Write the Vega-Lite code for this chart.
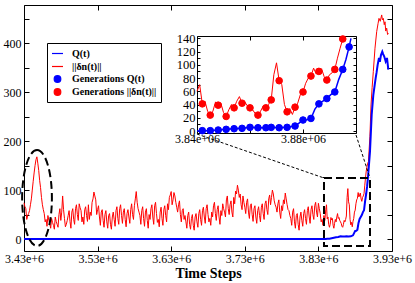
{
 "$schema": "https://vega.github.io/schema/vega-lite/v6.json",
 "width": 368, "height": 246,
 "autosize": {"type": "none"},
 "padding": {"left": 24, "top": 5, "right": 23, "bottom": 32},
 "background": "white",
 "config": {
  "view": {"stroke": "#000000", "strokeWidth": 1},
  "font": "Liberation Serif",
  "axis": {"grid": false, "labelFont": "Liberation Serif", "labelColor": "#000", "tickColor": "#000", "domainColor": "#000", "labelFlush": false, "labelOverlap": false, "labelBound": false, "titleFont": "Liberation Serif", "titleColor": "#000"},
  "legend": {"orient": "none", "legendX": 23, "legendY": 38, "title": null, "labelFont": "Liberation Serif", "labelFontSize": 10, "labelFontWeight": "bold", "labelColor": "#000", "labelOffset": 8, "rowPadding": 1, "padding": 4, "strokeColor": "#000", "fillColor": "#fff", "cornerRadius": 0, "labelLimit": 200, "symbolStrokeWidth": 1.2, "symbolOpacity": 1}
 },
 "datasets": {
  "dn": [
   {"t":3430000,"v":74},{"t":3431250,"v":66},{"t":3432500,"v":62},{"t":3433750,"v":40},{"t":3435000,"v":48},{"t":3436250,"v":52},{"t":3437500,"v":58},{"t":3438750,"v":70},{"t":3440000,"v":82},{"t":3441250,"v":100},
   {"t":3442500,"v":118},{"t":3443750,"v":135},{"t":3445000,"v":150},{"t":3446250,"v":162},{"t":3447500,"v":168},{"t":3448750,"v":155},{"t":3450000,"v":140},{"t":3451250,"v":120},{"t":3452500,"v":105},{"t":3453750,"v":85},
   {"t":3455000,"v":70},{"t":3456250,"v":60},{"t":3457500,"v":52},{"t":3458750,"v":35},{"t":3460000,"v":40},{"t":3461250,"v":26},{"t":3462500,"v":48},{"t":3463750,"v":38},{"t":3465000,"v":32},{"t":3466250,"v":22},
   {"t":3467500,"v":42},{"t":3468750,"v":34},{"t":3470000,"v":28},{"t":3471250,"v":20},{"t":3472500,"v":45},{"t":3473750,"v":36},{"t":3475000,"v":30},{"t":3476250,"v":24},{"t":3477500,"v":50},{"t":3478750,"v":62},
   {"t":3480000,"v":38},{"t":3481250,"v":55},{"t":3482500,"v":88},{"t":3483750,"v":60},{"t":3485000,"v":42},{"t":3486250,"v":25},{"t":3487500,"v":30},{"t":3488750,"v":38},{"t":3490000,"v":48},{"t":3491250,"v":58},
   {"t":3492500,"v":36},{"t":3493750,"v":22},{"t":3495000,"v":55},{"t":3496250,"v":62},{"t":3497500,"v":40},{"t":3498750,"v":30},{"t":3500000,"v":62},{"t":3501250,"v":70},{"t":3502500,"v":50},{"t":3503750,"v":38},
   {"t":3505000,"v":72},{"t":3506250,"v":64},{"t":3507500,"v":58},{"t":3508750,"v":35},{"t":3510000,"v":45},{"t":3511250,"v":30},{"t":3512500,"v":60},{"t":3513750,"v":66},{"t":3515000,"v":48},{"t":3516250,"v":36},
   {"t":3517500,"v":70},{"t":3518750,"v":40},{"t":3520000,"v":55},{"t":3521250,"v":48},{"t":3522500,"v":75},{"t":3523750,"v":82},{"t":3525000,"v":96},{"t":3526250,"v":88},{"t":3527500,"v":80},{"t":3528750,"v":50},
   {"t":3530000,"v":60},{"t":3531250,"v":68},{"t":3532500,"v":45},{"t":3533750,"v":28},{"t":3535000,"v":55},{"t":3536250,"v":60},{"t":3537500,"v":38},{"t":3538750,"v":24},{"t":3540000,"v":50},{"t":3541250,"v":58},
   {"t":3542500,"v":35},{"t":3543750,"v":22},{"t":3545000,"v":48},{"t":3546250,"v":52},{"t":3547500,"v":30},{"t":3548750,"v":20},{"t":3550000,"v":45},{"t":3551250,"v":55},{"t":3552500,"v":40},{"t":3553750,"v":26},
   {"t":3555000,"v":58},{"t":3556250,"v":66},{"t":3557500,"v":42},{"t":3558750,"v":30},{"t":3560000,"v":62},{"t":3561250,"v":70},{"t":3562500,"v":48},{"t":3563750,"v":32},{"t":3565000,"v":55},{"t":3566250,"v":62},
   {"t":3567500,"v":40},{"t":3568750,"v":25},{"t":3570000,"v":52},{"t":3571250,"v":60},{"t":3572500,"v":45},{"t":3573750,"v":32},{"t":3575000,"v":60},{"t":3576250,"v":72},{"t":3577500,"v":50},{"t":3578750,"v":40},
   {"t":3580000,"v":68},{"t":3581250,"v":82},{"t":3582500,"v":97},{"t":3583750,"v":75},{"t":3585000,"v":62},{"t":3586250,"v":55},{"t":3587500,"v":48},{"t":3588750,"v":30},{"t":3590000,"v":58},{"t":3591250,"v":66},
   {"t":3592500,"v":42},{"t":3593750,"v":26},{"t":3595000,"v":55},{"t":3596250,"v":62},{"t":3597500,"v":38},{"t":3598750,"v":22},{"t":3600000,"v":50},{"t":3601250,"v":40},{"t":3602500,"v":62},{"t":3603750,"v":70},
   {"t":3605000,"v":45},{"t":3606250,"v":30},{"t":3607500,"v":68},{"t":3608750,"v":75},{"t":3610000,"v":52},{"t":3611250,"v":34},{"t":3612500,"v":40},{"t":3613750,"v":25},{"t":3615000,"v":55},{"t":3616250,"v":65},
   {"t":3617500,"v":42},{"t":3618750,"v":28},{"t":3620000,"v":60},{"t":3621250,"v":68},{"t":3622500,"v":48},{"t":3623750,"v":35},{"t":3625000,"v":72},{"t":3626250,"v":60},{"t":3627500,"v":85},{"t":3628750,"v":90},
   {"t":3630000,"v":97},{"t":3631250,"v":70},{"t":3632500,"v":80},{"t":3633750,"v":95},{"t":3635000,"v":88},{"t":3636250,"v":75},{"t":3637500,"v":65},{"t":3638750,"v":55},{"t":3640000,"v":70},{"t":3641250,"v":78},
   {"t":3642500,"v":50},{"t":3643750,"v":35},{"t":3645000,"v":58},{"t":3646250,"v":62},{"t":3647500,"v":40},{"t":3648750,"v":48},{"t":3650000,"v":35},{"t":3651250,"v":22},{"t":3652500,"v":48},{"t":3653750,"v":55},
   {"t":3655000,"v":30},{"t":3656250,"v":20},{"t":3657500,"v":42},{"t":3658750,"v":50},{"t":3660000,"v":28},{"t":3661250,"v":18},{"t":3662500,"v":45},{"t":3663750,"v":52},{"t":3665000,"v":35},{"t":3666250,"v":24},
   {"t":3667500,"v":52},{"t":3668750,"v":60},{"t":3670000,"v":40},{"t":3671250,"v":28},{"t":3672500,"v":58},{"t":3673750,"v":65},{"t":3675000,"v":45},{"t":3676250,"v":32},{"t":3677500,"v":62},{"t":3678750,"v":70},
   {"t":3680000,"v":50},{"t":3681250,"v":35},{"t":3682500,"v":42},{"t":3683750,"v":28},{"t":3685000,"v":55},{"t":3686250,"v":45},{"t":3687500,"v":68},{"t":3688750,"v":75},{"t":3690000,"v":52},{"t":3691250,"v":38},
   {"t":3692500,"v":60},{"t":3693750,"v":68},{"t":3695000,"v":45},{"t":3696250,"v":30},{"t":3697500,"v":58},{"t":3698750,"v":48},{"t":3700000,"v":72},{"t":3701250,"v":62},{"t":3702500,"v":55},{"t":3703750,"v":45},
   {"t":3705000,"v":80},{"t":3706250,"v":88},{"t":3707500,"v":62},{"t":3708750,"v":50},{"t":3710000,"v":70},{"t":3711250,"v":78},{"t":3712500,"v":55},{"t":3713750,"v":45},{"t":3715000,"v":85},{"t":3716250,"v":72},
   {"t":3717500,"v":98},{"t":3718750,"v":92},{"t":3720000,"v":110},{"t":3721250,"v":100},{"t":3722500,"v":85},{"t":3723750,"v":92},{"t":3725000,"v":70},{"t":3726250,"v":60},{"t":3727500,"v":88},{"t":3728750,"v":75},
   {"t":3730000,"v":65},{"t":3731250,"v":52},{"t":3732500,"v":75},{"t":3733750,"v":82},{"t":3735000,"v":55},{"t":3736250,"v":42},{"t":3737500,"v":68},{"t":3738750,"v":72},{"t":3740000,"v":50},{"t":3741250,"v":36},
   {"t":3742500,"v":62},{"t":3743750,"v":68},{"t":3745000,"v":45},{"t":3746250,"v":32},{"t":3747500,"v":58},{"t":3748750,"v":66},{"t":3750000,"v":48},{"t":3751250,"v":35},{"t":3752500,"v":65},{"t":3753750,"v":72},
   {"t":3755000,"v":52},{"t":3756250,"v":40},{"t":3757500,"v":72},{"t":3758750,"v":78},{"t":3760000,"v":60},{"t":3761250,"v":50},{"t":3762500,"v":82},{"t":3763750,"v":90},{"t":3765000,"v":70},{"t":3766250,"v":85},
   {"t":3767500,"v":100},{"t":3768750,"v":92},{"t":3770000,"v":78},{"t":3771250,"v":70},{"t":3772500,"v":65},{"t":3773750,"v":55},{"t":3775000,"v":72},{"t":3776250,"v":80},{"t":3777500,"v":55},{"t":3778750,"v":42},
   {"t":3780000,"v":68},{"t":3781250,"v":58},{"t":3782500,"v":80},{"t":3783750,"v":72},{"t":3785000,"v":94},{"t":3786250,"v":82},{"t":3787500,"v":70},{"t":3788750,"v":60},{"t":3790000,"v":58},{"t":3791250,"v":48},
   {"t":3792500,"v":42},{"t":3793750,"v":28},{"t":3795000,"v":55},{"t":3796250,"v":62},{"t":3797500,"v":35},{"t":3798750,"v":22},{"t":3800000,"v":48},{"t":3801250,"v":52},{"t":3802500,"v":30},{"t":3803750,"v":18},
   {"t":3805000,"v":45},{"t":3806250,"v":55},{"t":3807500,"v":38},{"t":3808750,"v":26},{"t":3810000,"v":52},{"t":3811250,"v":60},{"t":3812500,"v":42},{"t":3813750,"v":30},{"t":3815000,"v":58},{"t":3816250,"v":66},
   {"t":3817500,"v":45},{"t":3818750,"v":32},{"t":3820000,"v":60},{"t":3821250,"v":68},{"t":3822500,"v":50},{"t":3823750,"v":40},{"t":3825000,"v":68},{"t":3826250,"v":75},{"t":3827500,"v":55},{"t":3828750,"v":45},
   {"t":3830000,"v":73},{"t":3831250,"v":62},{"t":3832500,"v":52},{"t":3833750,"v":35},{"t":3835000,"v":40},{"t":3836250,"v":28},{"t":3837500,"v":48},{"t":3838750,"v":38},{"t":3840000,"v":60},
   {"t":3841000,"v":70},{"t":3842000,"v":41},{"t":3843000,"v":45},{"t":3844000,"v":30},{"t":3845000,"v":24},{"t":3846000,"v":30},{"t":3847000,"v":44},{"t":3848000,"v":39},{"t":3849000,"v":42},{"t":3850000,"v":28},
   {"t":3851000,"v":22},{"t":3852000,"v":32},{"t":3853000,"v":40},{"t":3854000,"v":35},{"t":3855000,"v":45},{"t":3856000,"v":52},{"t":3857000,"v":42},{"t":3858000,"v":44},{"t":3859000,"v":38},{"t":3860000,"v":35},
   {"t":3861000,"v":32},{"t":3862000,"v":26},{"t":3863000,"v":24},{"t":3864000,"v":30},{"t":3865000,"v":38},{"t":3866000,"v":35},{"t":3867000,"v":40},{"t":3868000,"v":47},{"t":3869000,"v":85},{"t":3870000,"v":103},
   {"t":3871000,"v":76},{"t":3872000,"v":70},{"t":3873000,"v":40},{"t":3874000,"v":29},{"t":3875000,"v":34},{"t":3876000,"v":25},{"t":3877000,"v":36},{"t":3878000,"v":42},{"t":3879000,"v":55},{"t":3880000,"v":59},
   {"t":3881000,"v":72},{"t":3882000,"v":80},{"t":3883000,"v":83},{"t":3884000,"v":95},{"t":3885000,"v":86},{"t":3886000,"v":90},{"t":3887000,"v":94},{"t":3888000,"v":82},{"t":3889000,"v":77},{"t":3890000,"v":85},
   {"t":3891000,"v":88},{"t":3892000,"v":93},{"t":3893000,"v":110},{"t":3894000,"v":125},{"t":3895000,"v":139},{"t":3896000,"v":148},{"t":3897000,"v":155},{"t":3898000,"v":158},{"t":3900000,"v":210},{"t":3901500,"v":274},
   {"t":3903000,"v":310},{"t":3904600,"v":342},{"t":3906900,"v":390},{"t":3909200,"v":424},{"t":3911000,"v":440},{"t":3912300,"v":451},{"t":3914000,"v":445},{"t":3916000,"v":458},{"t":3917000,"v":448},{"t":3918200,"v":451},
   {"t":3919500,"v":438},{"t":3920500,"v":444},{"t":3921500,"v":425},{"t":3922800,"v":431},{"t":3924000,"v":418},{"t":3925000,"v":421}
  ],
  "q": [
   {"t":3430000,"v":0},{"t":3840000,"v":0},{"t":3842000,"v":0.5},{"t":3845000,"v":0.5},{"t":3848000,"v":1.5},{"t":3851000,"v":2.5},{"t":3854000,"v":3.5},{"t":3857000,"v":4},{"t":3860000,"v":5.5},{"t":3863000,"v":5},
   {"t":3866000,"v":5},{"t":3868000,"v":5.5},{"t":3871000,"v":5},{"t":3874000,"v":5.5},{"t":3877000,"v":7.5},{"t":3878500,"v":12},{"t":3880000,"v":16.6},{"t":3881500,"v":17},{"t":3883000,"v":19},{"t":3884500,"v":33},
   {"t":3886000,"v":41},{"t":3887500,"v":45},{"t":3889000,"v":49},{"t":3890500,"v":55},{"t":3892000,"v":59},{"t":3893500,"v":78},{"t":3895000,"v":93},{"t":3896200,"v":108},{"t":3897400,"v":127},{"t":3898100,"v":140},
   {"t":3900100,"v":179},{"t":3902400,"v":254},{"t":3904600,"v":294},{"t":3906500,"v":315},{"t":3907800,"v":329},{"t":3909000,"v":340},{"t":3910500,"v":356},{"t":3912300,"v":370},{"t":3913500,"v":362},{"t":3915000,"v":376},
   {"t":3916800,"v":383},{"t":3918000,"v":378},{"t":3919500,"v":373},{"t":3921400,"v":363},{"t":3923200,"v":370},{"t":3925000,"v":346}
  ],
  "gens": [
   {"t":3842000,"v":41,"s":"Generations ||δn(t)||"},{"t":3845000,"v":24,"s":"Generations ||δn(t)||"},{"t":3848000,"v":39,"s":"Generations ||δn(t)||"},{"t":3851000,"v":22,"s":"Generations ||δn(t)||"},{"t":3854000,"v":35,"s":"Generations ||δn(t)||"},
   {"t":3857000,"v":42,"s":"Generations ||δn(t)||"},{"t":3860000,"v":35,"s":"Generations ||δn(t)||"},{"t":3863000,"v":24,"s":"Generations ||δn(t)||"},{"t":3866000,"v":35,"s":"Generations ||δn(t)||"},{"t":3868000,"v":47,"s":"Generations ||δn(t)||"},
   {"t":3871000,"v":76,"s":"Generations ||δn(t)||"},{"t":3874000,"v":29,"s":"Generations ||δn(t)||"},{"t":3877000,"v":36,"s":"Generations ||δn(t)||"},{"t":3880000,"v":59,"s":"Generations ||δn(t)||"},{"t":3883000,"v":83,"s":"Generations ||δn(t)||"},
   {"t":3886000,"v":90,"s":"Generations ||δn(t)||"},{"t":3889000,"v":77,"s":"Generations ||δn(t)||"},{"t":3892000,"v":93,"s":"Generations ||δn(t)||"},{"t":3895000,"v":139,"s":"Generations ||δn(t)||"},
   {"t":3842000,"v":0.5,"s":"Generations Q(t)"},{"t":3845000,"v":0.5,"s":"Generations Q(t)"},{"t":3848000,"v":1.5,"s":"Generations Q(t)"},{"t":3851000,"v":2.5,"s":"Generations Q(t)"},{"t":3854000,"v":3.5,"s":"Generations Q(t)"},
   {"t":3857000,"v":4,"s":"Generations Q(t)"},{"t":3860000,"v":5.5,"s":"Generations Q(t)"},{"t":3863000,"v":5,"s":"Generations Q(t)"},{"t":3866000,"v":5,"s":"Generations Q(t)"},{"t":3868000,"v":5.5,"s":"Generations Q(t)"},
   {"t":3871000,"v":5,"s":"Generations Q(t)"},{"t":3874000,"v":5.5,"s":"Generations Q(t)"},{"t":3877000,"v":7.5,"s":"Generations Q(t)"},{"t":3880000,"v":16.6,"s":"Generations Q(t)"},{"t":3883000,"v":19,"s":"Generations Q(t)"},
   {"t":3886000,"v":41,"s":"Generations Q(t)"},{"t":3889000,"v":49,"s":"Generations Q(t)"},{"t":3892000,"v":59,"s":"Generations Q(t)"},{"t":3895000,"v":93,"s":"Generations Q(t)"},{"t":3897400,"v":127,"s":"Generations Q(t)"}
  ],
  "box": [{"x1":3837600,"x2":3900100,"y1":-14.3,"y2":124.7}],
  "ell": [{"x":3447700,"y":83.8}],
  "conn": [{"x1":3665000,"y1":214.6,"x2":3837600,"y2":124.7},{"x1":3881100,"y1":212.6,"x2":3900100,"y2":124.7}]
 },
 "layer": [
  {
   "data": {"name": "dn"},
   "mark": {"type": "line", "color": "#ff0000", "strokeWidth": 1},
   "encoding": {
    "x": {"field": "t", "type": "quantitative", "scale": {"domain": [3430000, 3930000], "nice": false, "zero": false},
     "axis": {"orient": "bottom", "values": [3430000,3530000,3630000,3730000,3830000,3930000], "labelExpr": "format(datum.value, '.2e')", "ticks": false, "domain": false, "labelFontSize": 12, "labelPadding": 2, "title": "Time Steps", "titleFontSize": 14, "titleFontWeight": "bold", "titlePadding": 2}},
    "y": {"field": "v", "type": "quantitative", "scale": {"domain": [-24.5, 478.3], "nice": false, "zero": false},
     "axis": {"orient": "left", "values": [0,100,200,300,400], "ticks": false, "domain": false, "labelFontSize": 12, "labelPadding": 3, "title": null}}
   }
  },
  {
   "data": {"name": "q"},
   "mark": {"type": "line", "color": "#0000ff", "strokeWidth": 2},
   "encoding": {
    "x": {"field": "t", "type": "quantitative", "scale": {"domain": [3430000, 3930000], "nice": false, "zero": false},
     "axis": {"orient": "bottom", "values": [3430000,3530000,3630000,3730000,3830000,3930000], "labels": false, "domain": false, "tickSize": -5, "title": null}},
    "y": {"field": "v", "type": "quantitative", "scale": {"domain": [-24.5, 478.3], "nice": false, "zero": false},
     "axis": {"orient": "left", "values": [0,50,100,150,200,250,300,350,400,450], "labels": false, "domain": false, "tickSize": -5, "title": null}}
   }
  },
  {
   "data": {"name": "box"},
   "mark": {"type": "rect", "filled": false, "color": "#000", "strokeWidth": 2, "strokeDash": [8, 4]},
   "encoding": {
    "x": {"field": "x1", "type": "quantitative", "scale": {"domain": [3430000, 3930000], "nice": false, "zero": false},
     "axis": {"orient": "top", "values": [3430000,3530000,3630000,3730000,3830000,3930000], "labels": false, "domain": false, "tickSize": -5, "title": null}},
    "x2": {"field": "x2"},
    "y": {"field": "y1", "type": "quantitative", "scale": {"domain": [-24.5, 478.3], "nice": false, "zero": false},
     "axis": {"orient": "right", "values": [0,50,100,150,200,250,300,350,400,450], "labels": false, "domain": false, "tickSize": -5, "title": null}},
    "y2": {"field": "y2"}
   }
  },
  {
   "data": {"name": "ell"},
   "mark": {"type": "point", "shape": "M0,-1A0.31,1,0,1,1,0,1A0.31,1,0,1,1,0,-1Z", "size": 9216, "filled": false, "color": "#000", "strokeWidth": 2, "strokeDash": [8, 4], "opacity": 1},
   "encoding": {
    "x": {"field": "x", "type": "quantitative", "scale": {"domain": [3430000, 3930000], "nice": false, "zero": false}, "axis": null},
    "y": {"field": "y", "type": "quantitative", "scale": {"domain": [-24.5, 478.3], "nice": false, "zero": false}, "axis": null}
   }
  },
  {
   "data": {"name": "conn"},
   "mark": {"type": "rule", "color": "#000", "strokeWidth": 1, "strokeDash": [3, 2]},
   "encoding": {
    "x": {"field": "x1", "type": "quantitative", "scale": {"domain": [3430000, 3930000], "nice": false, "zero": false}, "axis": null},
    "x2": {"field": "x2"},
    "y": {"field": "y1", "type": "quantitative", "scale": {"domain": [-24.5, 478.3], "nice": false, "zero": false}, "axis": null},
    "y2": {"field": "y2"}
   }
  },
  {
   "data": {"name": "dn"},
   "transform": [{"filter": "datum.t >= 3840000 && datum.t <= 3900000 && datum.v <= 143.5"}],
   "mark": {"type": "line", "color": "#ff0000", "strokeWidth": 1},
   "encoding": {
    "x": {"field": "t", "type": "quantitative", "scale": {"domain": [3840000, 3900000], "range": [173, 332], "nice": false, "zero": false},
     "axis": {"orient": "bottom", "offset": -118, "values": [3840000, 3880000], "labelExpr": "replace(format(datum.value, '.2e'), 'e+6', 'e+06')", "ticks": false, "domain": true, "labelFontSize": 12, "labelPadding": 0, "title": null}},
    "y": {"field": "v", "type": "quantitative", "scale": {"domain": [-3, 143.5], "range": [128, 31], "nice": false, "zero": false},
     "axis": {"orient": "left", "offset": -173, "values": [0,20,40,60,80,100,120,140], "ticks": false, "domain": true, "labelFontSize": 12.5, "labelPadding": 2, "title": null}}
   }
  },
  {
   "data": {"name": "q"},
   "transform": [{"filter": "datum.t >= 3840000 && datum.t <= 3900000 && datum.v <= 143.5"}],
   "mark": {"type": "line", "color": "#0000ff", "strokeWidth": 1.5},
   "encoding": {
    "x": {"field": "t", "type": "quantitative", "scale": {"domain": [3840000, 3900000], "range": [173, 332], "nice": false, "zero": false},
     "axis": {"orient": "bottom", "offset": -118, "values": [3840000, 3860000, 3880000, 3900000], "labels": false, "domain": false, "tickSize": -4, "title": null}},
    "y": {"field": "v", "type": "quantitative", "scale": {"domain": [-3, 143.5], "range": [128, 31], "nice": false, "zero": false},
     "axis": {"orient": "left", "offset": -173, "values": [0,10,20,30,40,50,60,70,80,90,100,110,120,130,140], "labels": false, "domain": false, "tickSize": -3, "title": null}}
   }
  },
  {
   "data": {"name": "gens"},
   "mark": {"type": "point", "filled": true, "opacity": 1, "strokeWidth": 1},
   "encoding": {
    "x": {"field": "t", "type": "quantitative", "scale": {"domain": [3840000, 3900000], "range": [173, 332], "nice": false, "zero": false},
     "axis": {"orient": "top", "offset": -31, "values": [3840000, 3860000, 3880000, 3900000], "labels": false, "domain": true, "tickSize": -4, "title": null}},
    "y": {"field": "v", "type": "quantitative", "scale": {"domain": [-3, 143.5], "range": [128, 31], "nice": false, "zero": false},
     "axis": {"orient": "right", "offset": -36, "values": [0,10,20,30,40,50,60,70,80,90,100,110,120,130,140], "labels": false, "domain": true, "tickSize": -3, "title": null}},
    "color": {"field": "s", "type": "nominal",
     "scale": {"domain": ["Q(t)", "||δn(t)||", "Generations Q(t)", "Generations ||δn(t)||"], "range": ["#0000ff", "#ff0000", "#0000ff", "#ff0000"]}},
    "stroke": {"field": "s", "type": "nominal",
     "scale": {"domain": ["Q(t)", "||δn(t)||", "Generations Q(t)", "Generations ||δn(t)||"], "range": ["#0000ff", "#ff0000", "#0000ff", "#ff0000"]}},
    "shape": {"field": "s", "type": "nominal",
     "scale": {"domain": ["Q(t)", "||δn(t)||", "Generations Q(t)", "Generations ||δn(t)||"], "range": ["stroke", "stroke", "circle", "circle"]}},
    "size": {"field": "s", "type": "nominal",
     "scale": {"type": "ordinal", "domain": ["Q(t)", "||δn(t)||", "Generations Q(t)", "Generations ||δn(t)||"], "range": [121, 121, 44, 44]}}
   }
  }
 ],
 "resolve": {"scale": {"x": "independent", "y": "independent"}}
}
